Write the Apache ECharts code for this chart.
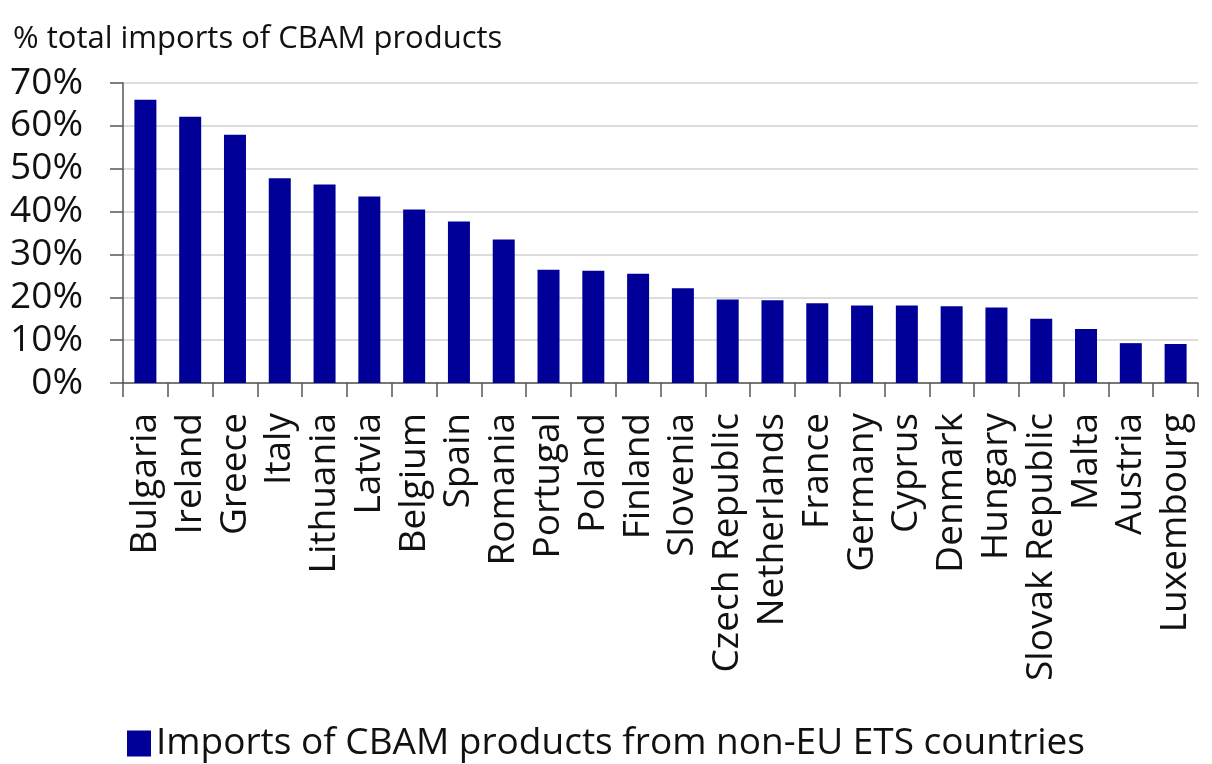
<!DOCTYPE html>
<html><head><meta charset="utf-8">
<script src="https://cdn.jsdelivr.net/npm/echarts@6/dist/echarts.min.js"></script>
<style>html,body{margin:0;padding:0;background:#fff}#c{width:1212px;height:764px}</style>
</head><body><div id="c"></div>
<script>
const categories = ["Bulgaria","Ireland","Greece","Italy","Lithuania","Latvia","Belgium","Spain","Romania","Portugal","Poland","Finland","Slovenia","Czech Republic","Netherlands","France","Germany","Cyprus","Denmark","Hungary","Slovak Republic","Malta","Austria","Luxembourg"];
const values = [66.1,62.1,57.9,47.8,46.3,43.5,40.5,37.7,33.5,26.4,26.2,25.5,22.1,19.5,19.3,18.6,18.1,18.1,17.9,17.6,15.0,12.6,9.3,9.1];
const seriesName = "Imports of CBAM products from non-EU ETS countries";
const yTitle = "% total imports of CBAM products";
const font = "Open Sans";
const chart = echarts.init(document.getElementById('c'), null, {renderer:'canvas'});
chart.setOption({
  animation:false,
  textStyle:{fontFamily:font},
  title:{text:yTitle,left:8,top:19,textStyle:{fontFamily:font,fontSize:31,fontWeight:'normal',color:'#111'}},
  grid:{left:123,right:14,top:83,bottom:381},
  legend:{top:720,left:'center',itemWidth:24,itemHeight:26,icon:'rect',itemGap:12,
    textStyle:{fontFamily:font,fontSize:37,color:'#111'},data:[seriesName]},
  xAxis:{type:'category',data:categories,
    axisLine:{lineStyle:{color:'#555',width:1.5}},
    axisTick:{show:true,length:14,lineStyle:{color:'#555',width:1.5},alignWithLabel:false},
    axisLabel:{rotate:90,fontSize:37,color:'#111',margin:30,interval:0,fontFamily:font}},
  yAxis:{type:'value',min:0,max:70,interval:10,
    axisLine:{show:true,lineStyle:{color:'#555',width:1.5}},
    axisTick:{show:true,length:13,lineStyle:{color:'#555',width:1.5}},
    splitLine:{lineStyle:{color:'#dcdcdc',width:2}},
    axisLabel:{formatter:'{value}%',fontSize:37,color:'#111',margin:40,fontFamily:font}},
  series:[{name:seriesName,type:'bar',data:values,barWidth:22,itemStyle:{color:'#000099'}}]
});
</script></body></html>
